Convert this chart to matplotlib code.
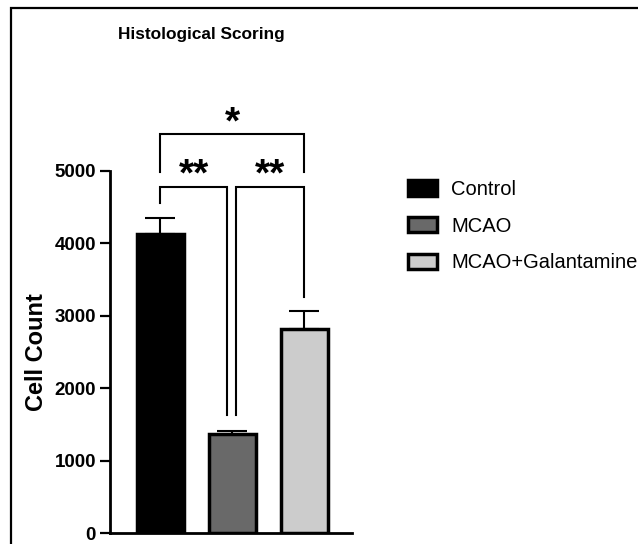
import matplotlib
matplotlib.use("Agg")
import matplotlib.pyplot as plt
from matplotlib.patches import Rectangle

plt.rcParams['font.family'] = ['Liberation Sans', 'DejaVu Sans']

# Data
groups = ['Control', 'MCAO', 'MCAO+Galantamine']
means = [4130, 1370, 2820]
sems = [220, 40, 250]
colors = ['#000000', '#696969', '#cccccc']

# significance brackets: (x1, x2, bar_y, left_end, right_end, label)
brackets = [
    (0, 0.93, 4780, 4560, 1630, '**'),
    (1.05, 2, 4780, 1630, 3260, '**'),
    (0, 2, 5510, 4990, 4990, '*'),
]

fig = plt.figure(figsize=(6.38, 5.44), dpi=100)
ax = fig.add_axes([110 / 638, 11 / 544, 242 / 638, 362 / 544])

x = range(len(groups))
ax.bar(x, means, width=0.65, color=colors, edgecolor='black', linewidth=2.5,
       label=groups, zorder=2)
ax.errorbar(x, means, yerr=[[0] * 3, sems], fmt='none', ecolor='black',
            elinewidth=1.5, capsize=11, capthick=1.5, zorder=1)

ax.set_xlim(-0.70, 2.66)
ax.set_ylim(0, 5000)
ax.set_yticks([0, 1000, 2000, 3000, 4000, 5000])
ax.set_xticks([])
for s in ['top', 'right']:
    ax.spines[s].set_visible(False)
for s in ['left', 'bottom']:
    ax.spines[s].set_linewidth(2)
ax.tick_params(axis='y', length=7, width=1.6, labelsize=13.5, pad=3)
for lbl in ax.get_yticklabels():
    lbl.set_fontweight('bold')
ax.set_ylabel('Cell Count', fontsize=17, fontweight='bold', labelpad=5)

# significance brackets
for x1, x2, y, yl, yr, txt in brackets:
    ax.plot([x1, x1, x2, x2], [yl, y, y, yr], color='black', lw=1.5,
            clip_on=False, solid_joinstyle='miter')
    ty = y + 150 if txt == '*' else y + 160
    ax.text((x1 + x2) / 2, ty, txt, ha='center', va='center', fontsize=28,
            fontweight='bold', clip_on=False)

fig.text(118 / 638, 1 - 35 / 544, 'Histological Scoring', fontsize=12.4,
         fontweight='bold', ha='left', va='center')

leg = ax.legend(loc='upper left', bbox_to_anchor=(400 / 638, 1 - 172 / 544),
                bbox_transform=fig.transFigure, frameon=False, fontsize=14.5,
                handlelength=1.45, handleheight=0.8, handletextpad=0.7,
                labelspacing=0.88, borderaxespad=0)

# outer frame
fig.patches.append(Rectangle((11 / 638, -0.1), 1.2, 1.1 - 8 / 544,
                             transform=fig.transFigure, fill=False,
                             edgecolor='black', linewidth=1.6))

fig.savefig('out.png', dpi=100)
